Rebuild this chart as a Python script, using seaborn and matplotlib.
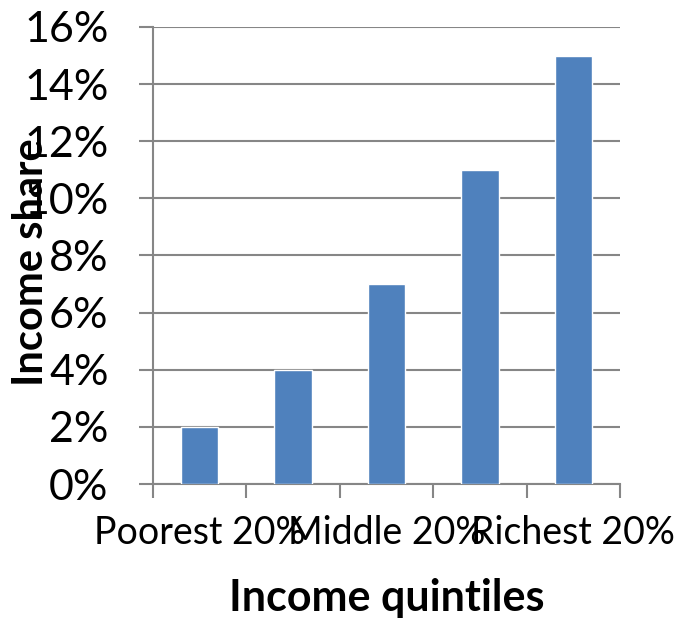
import matplotlib
matplotlib.use("Agg")
import matplotlib.pyplot as plt
import seaborn as sns
import pandas as pd
from matplotlib.ticker import FixedLocator, FuncFormatter

# Income share by quintile
quintiles = ["Poorest 20%", "Second 20%", "Middle 20%", "Fourth 20%", "Richest 20%"]
shares = [2, 4, 7, 11, 15]
shown_labels = ["Poorest 20%", "", "Middle 20%", "", "Richest 20%"]
y_ticks = [0, 2, 4, 6, 8, 10, 12, 14, 16]

df = pd.DataFrame({"quintile": quintiles, "share": shares})

sns.set_theme(style="white")
plt.rcParams["font.family"] = ["Lato", "DejaVu Sans"]

fig = plt.figure(figsize=(6.81, 6.23), dpi=100)
ax = fig.add_axes([0.2247, 0.2231, 0.6858, 0.7336])

sns.barplot(data=df, x="quintile", y="share", color="#4F81BD", width=0.4,
            saturation=1, ax=ax, zorder=3)

ax.set_ylim(0, 16)
ax.set_xlim(-0.5, len(quintiles) - 0.5)

grid_c = "#868686"
ax.yaxis.set_major_locator(FixedLocator(y_ticks))
ax.yaxis.set_major_formatter(FuncFormatter(lambda v, p: f"{v:.0f}%"))
ax.grid(axis="y", color=grid_c, linewidth=1.5, zorder=0)
ax.set_axisbelow(True)

# category boundaries carry the tick marks, centres carry the labels
bounds = [i - 0.5 for i in range(len(quintiles) + 1)]
ax.xaxis.set_major_locator(FixedLocator(bounds))
ax.xaxis.set_major_formatter(FuncFormatter(lambda v, p: ""))
ax.xaxis.set_minor_locator(FixedLocator(list(range(len(quintiles)))))
ax.set_xticklabels(shown_labels, minor=True)
ax.tick_params(axis="x", which="major", length=10, width=1.5, color=grid_c,
               direction="out", bottom=True)
ax.tick_params(axis="x", which="minor", length=0, pad=22, labelsize=27,
               labelcolor="black")
ax.tick_params(axis="y", which="major", length=10, width=1.5, color=grid_c,
               direction="out", left=True, pad=22, labelsize=31,
               labelcolor="black")

for side in ["top", "right"]:
    ax.spines[side].set_visible(False)
for side in ["left", "bottom"]:
    ax.spines[side].set_color(grid_c)
    ax.spines[side].set_linewidth(1.5)

ax.set_xlabel("Income quintiles", fontsize=31, fontweight="bold", color="black")
ax.set_ylabel("Income share", fontsize=30, fontweight="bold", color="black")
ax.yaxis.set_label_coords(-0.22, 0.486)
ax.xaxis.set_label_coords(0.5, -0.205)

fig.savefig("out.png", dpi=100)
